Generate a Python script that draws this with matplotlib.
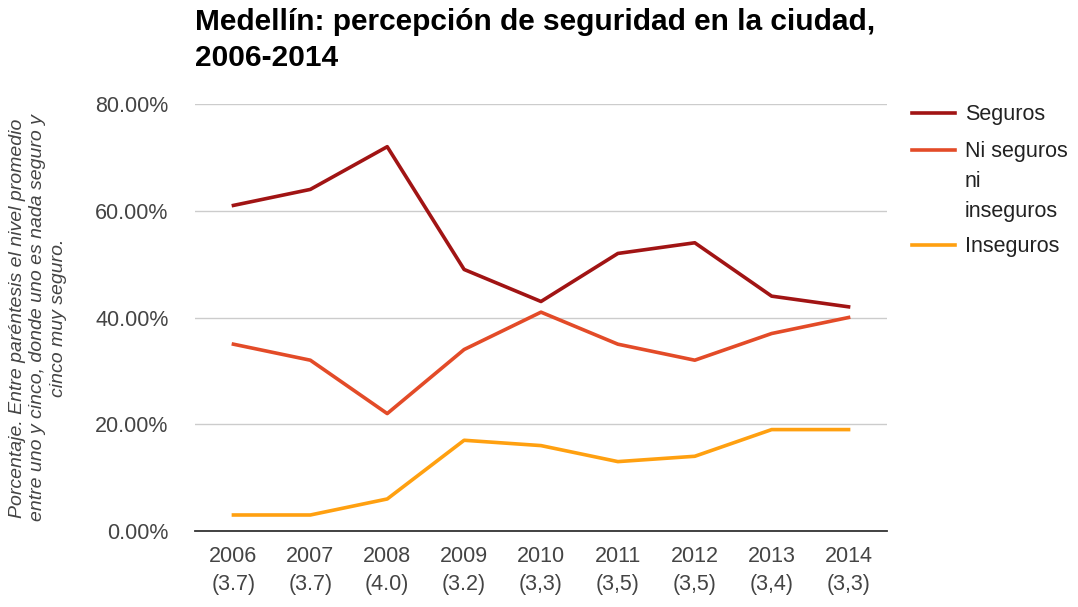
import matplotlib.pyplot as plt
from matplotlib.lines import Line2D
from matplotlib.ticker import FuncFormatter

plt.rcParams['font.family'] = ['Liberation Sans', 'DejaVu Sans']

years = ['2006', '2007', '2008', '2009', '2010', '2011', '2012', '2013', '2014']
promedio = ['(3.7)', '(3.7)', '(4.0)', '(3.2)', '(3,3)', '(3,5)', '(3,5)', '(3,4)', '(3,3)']
seguros = [61, 64, 72, 49, 43, 52, 54, 44, 42]
ni_seguros = [35, 32, 22, 34, 41, 35, 32, 37, 40]
inseguros = [3, 3, 6, 17, 16, 13, 14, 19, 19]

series = [
    ('Seguros', seguros, '#a11414'),
    ('Ni seguros\nni\ninseguros', ni_seguros, '#e34b28'),
    ('Inseguros', inseguros, '#ffa010'),
]

W, H = 1078, 607
fig = plt.figure(figsize=(W / 100, H / 100), dpi=100)
ax = fig.add_axes([195 / W, (H - 531) / H, (887 - 195) / W, (531 - 104) / H])

x = range(len(years))
for name, vals, col in series:
    ax.plot(x, vals, color=col, lw=2.6, label=name)

ax.set_xlim(-0.5, len(years) - 0.5)
ax.set_ylim(0, 80)
ax.set_yticks([0, 20, 40, 60, 80])
ax.yaxis.set_major_formatter(FuncFormatter(lambda v, p: f'{v:.2f}%'))
ax.set_xticks(list(x))
ax.set_xticklabels([f'{y}\n{p}' for y, p in zip(years, promedio)], linespacing=1.45)
ax.tick_params(length=0, labelsize=15.5, colors='#444444')
ax.tick_params(axis='y', pad=19)
ax.tick_params(axis='x', pad=11)
ax.grid(axis='y', color='#cccccc', lw=1)
ax.set_axisbelow(True)
for s in ['top', 'right', 'left']:
    ax.spines[s].set_visible(False)
ax.spines['bottom'].set_color('#333333')
ax.spines['bottom'].set_linewidth(1.3)

fig.text(195 / W, 1 - 8 / H, 'Medellín: percepción de seguridad en la ciudad,\n2006-2014',
         fontsize=21.5, fontweight='bold', va='top', ha='left', linespacing=1.38)

fig.text(38 / W, (H - 318) / H,
         'Porcentaje. Entre paréntesis el nivel promedio\nentre uno y cinco, donde uno es nada seguro y\ncinco muy seguro.',
         rotation=90, fontsize=14, fontstyle='italic', color='#444444', ha='center', va='center',
         multialignment='center', linespacing=1.25)

# legend: handle aligned with the first line of each (wrapped) label
legend_rows = [113, 150, 245]
for (name, vals, col), ly in zip(series, legend_rows):
    fig.add_artist(Line2D([912 / W, 955 / W], [1 - ly / H, 1 - ly / H], color=col, lw=2.6,
                          transform=fig.transFigure))
    fig.text(965 / W, 1 - (ly - 9) / H, name, fontsize=15.5, color='#222222',
             va='top', ha='left', linespacing=1.55)

fig.savefig('out.png', dpi=100)
